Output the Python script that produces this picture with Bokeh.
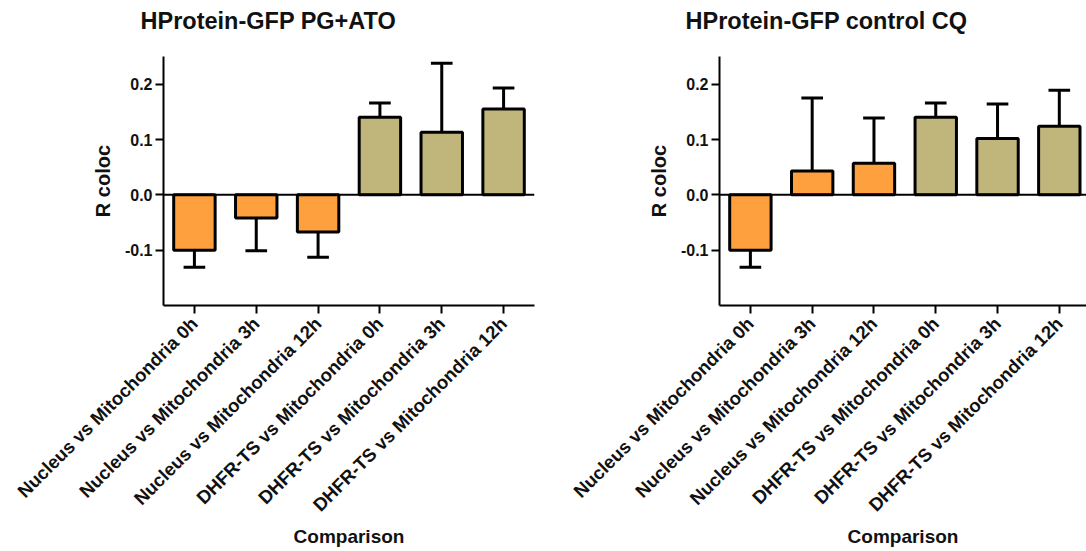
import math
import numpy as np
from bokeh.plotting import figure
from bokeh.layouts import row
from bokeh.models import Range1d, FixedTicker, PrintfTickFormatter, Span, Title
from bokeh.embed import file_html
from bokeh.resources import INLINE

categories = [
    "Nucleus vs Mitochondria 0h",
    "Nucleus vs Mitochondria 3h",
    "Nucleus vs Mitochondria 12h",
    "DHFR-TS vs Mitochondria 0h",
    "DHFR-TS vs Mitochondria 3h",
    "DHFR-TS vs Mitochondria 12h",
]
group_colors = ["#FFA03F", "#FFA03F", "#FFA03F", "#C0B67C", "#C0B67C", "#C0B67C"]

pg_ato_mean = [-0.100, -0.042, -0.067, 0.140, 0.113, 0.155]
pg_ato_err = [0.031, 0.059, 0.046, 0.026, 0.125, 0.038]

control_mean = [-0.100, 0.043, 0.057, 0.140, 0.102, 0.124]
control_err = [0.031, 0.132, 0.082, 0.026, 0.062, 0.065]

y_ticks = [-0.1, 0.0, 0.1, 0.2]

FONT = "Liberation Sans"


def make_panel(title, means, errs, border_left, frame_w, border_right, x_end, title_offset):
    p = figure(
        output_backend="svg", toolbar_location=None, title=None,
        frame_width=frame_w, frame_height=249,
        min_border_left=border_left, min_border_right=border_right,
        min_border_top=56, min_border_bottom=246,
        x_range=Range1d(-0.5, x_end), y_range=Range1d(-0.2, 0.25),
    )
    p.outline_line_color = None
    p.xgrid.visible = False
    p.ygrid.visible = False
    p.background_fill_color = "white"
    p.border_fill_color = "white"

    # spacer between the chart title and the plot area
    p.add_layout(Title(text=" ", text_font_size="1px", standoff=20), "above")
    p.add_layout(Title(text=title, text_font=FONT, text_font_size="23.5px",
                       text_font_style="bold", text_color="#111111",
                       align="left", offset=title_offset, standoff=0), "above")

    x = np.arange(len(categories))
    m = np.array(means)
    e = np.array(errs)
    end = m + np.sign(m) * e

    p.segment(x0=x, y0=m, x1=x, y1=end, line_color="black", line_width=3)
    p.segment(x0=x - 0.175, y0=end, x1=x + 0.175, y1=end, line_color="black", line_width=3)
    p.vbar(x=x, top=m, bottom=0, width=0.67, fill_color=group_colors,
           line_color="black", line_width=3)

    p.add_layout(Span(location=0, dimension="width", line_color="black", line_width=2))

    xa = p.xaxis[0]
    xa.ticker = FixedTicker(ticks=list(range(len(categories))))
    xa.major_label_overrides = {i: c for i, c in enumerate(categories)}
    xa.major_label_orientation = math.pi / 4
    xa.major_label_text_font = FONT
    xa.major_label_text_font_size = "18.5px"
    xa.major_label_text_font_style = "bold"
    xa.major_label_text_color = "#111111"
    xa.major_label_standoff = 7
    xa.axis_label = "Comparison"
    xa.axis_label_text_font = FONT
    xa.axis_label_text_font_size = "19px"
    xa.axis_label_text_font_style = "bold"
    xa.axis_label_text_color = "#111111"
    xa.axis_label_standoff = 0
    xa.axis_line_width = 2
    xa.major_tick_line_width = 2
    xa.major_tick_out = 8
    xa.major_tick_in = 0
    xa.minor_tick_line_color = None

    ya = p.yaxis[0]
    ya.ticker = FixedTicker(ticks=y_ticks)
    ya.formatter = PrintfTickFormatter(format="%.1f")
    ya.major_label_text_font = FONT
    ya.major_label_text_font_size = "16px"
    ya.major_label_text_font_style = "bold"
    ya.major_label_text_color = "#111111"
    ya.major_label_standoff = 3
    ya.axis_label = "R coloc"
    ya.axis_label_text_font = FONT
    ya.axis_label_text_font_size = "20px"
    ya.axis_label_text_font_style = "bold"
    ya.axis_label_text_color = "#111111"
    ya.axis_label_standoff = 8
    ya.axis_line_width = 2
    ya.major_tick_line_width = 2
    ya.major_tick_out = 8
    ya.major_tick_in = 0
    ya.minor_tick_line_color = None
    return p


p1 = make_panel("HProtein-GFP PG+ATO", pg_ato_mean, pg_ato_err, 163, 371, 34, 5.5, -23)
p2 = make_panel("HProtein-GFP control CQ", control_mean, control_err, 151, 367, 0, 5.44, -34)

layout = row(p1, p2)
open("out.html", "w").write(file_html(layout, INLINE))
